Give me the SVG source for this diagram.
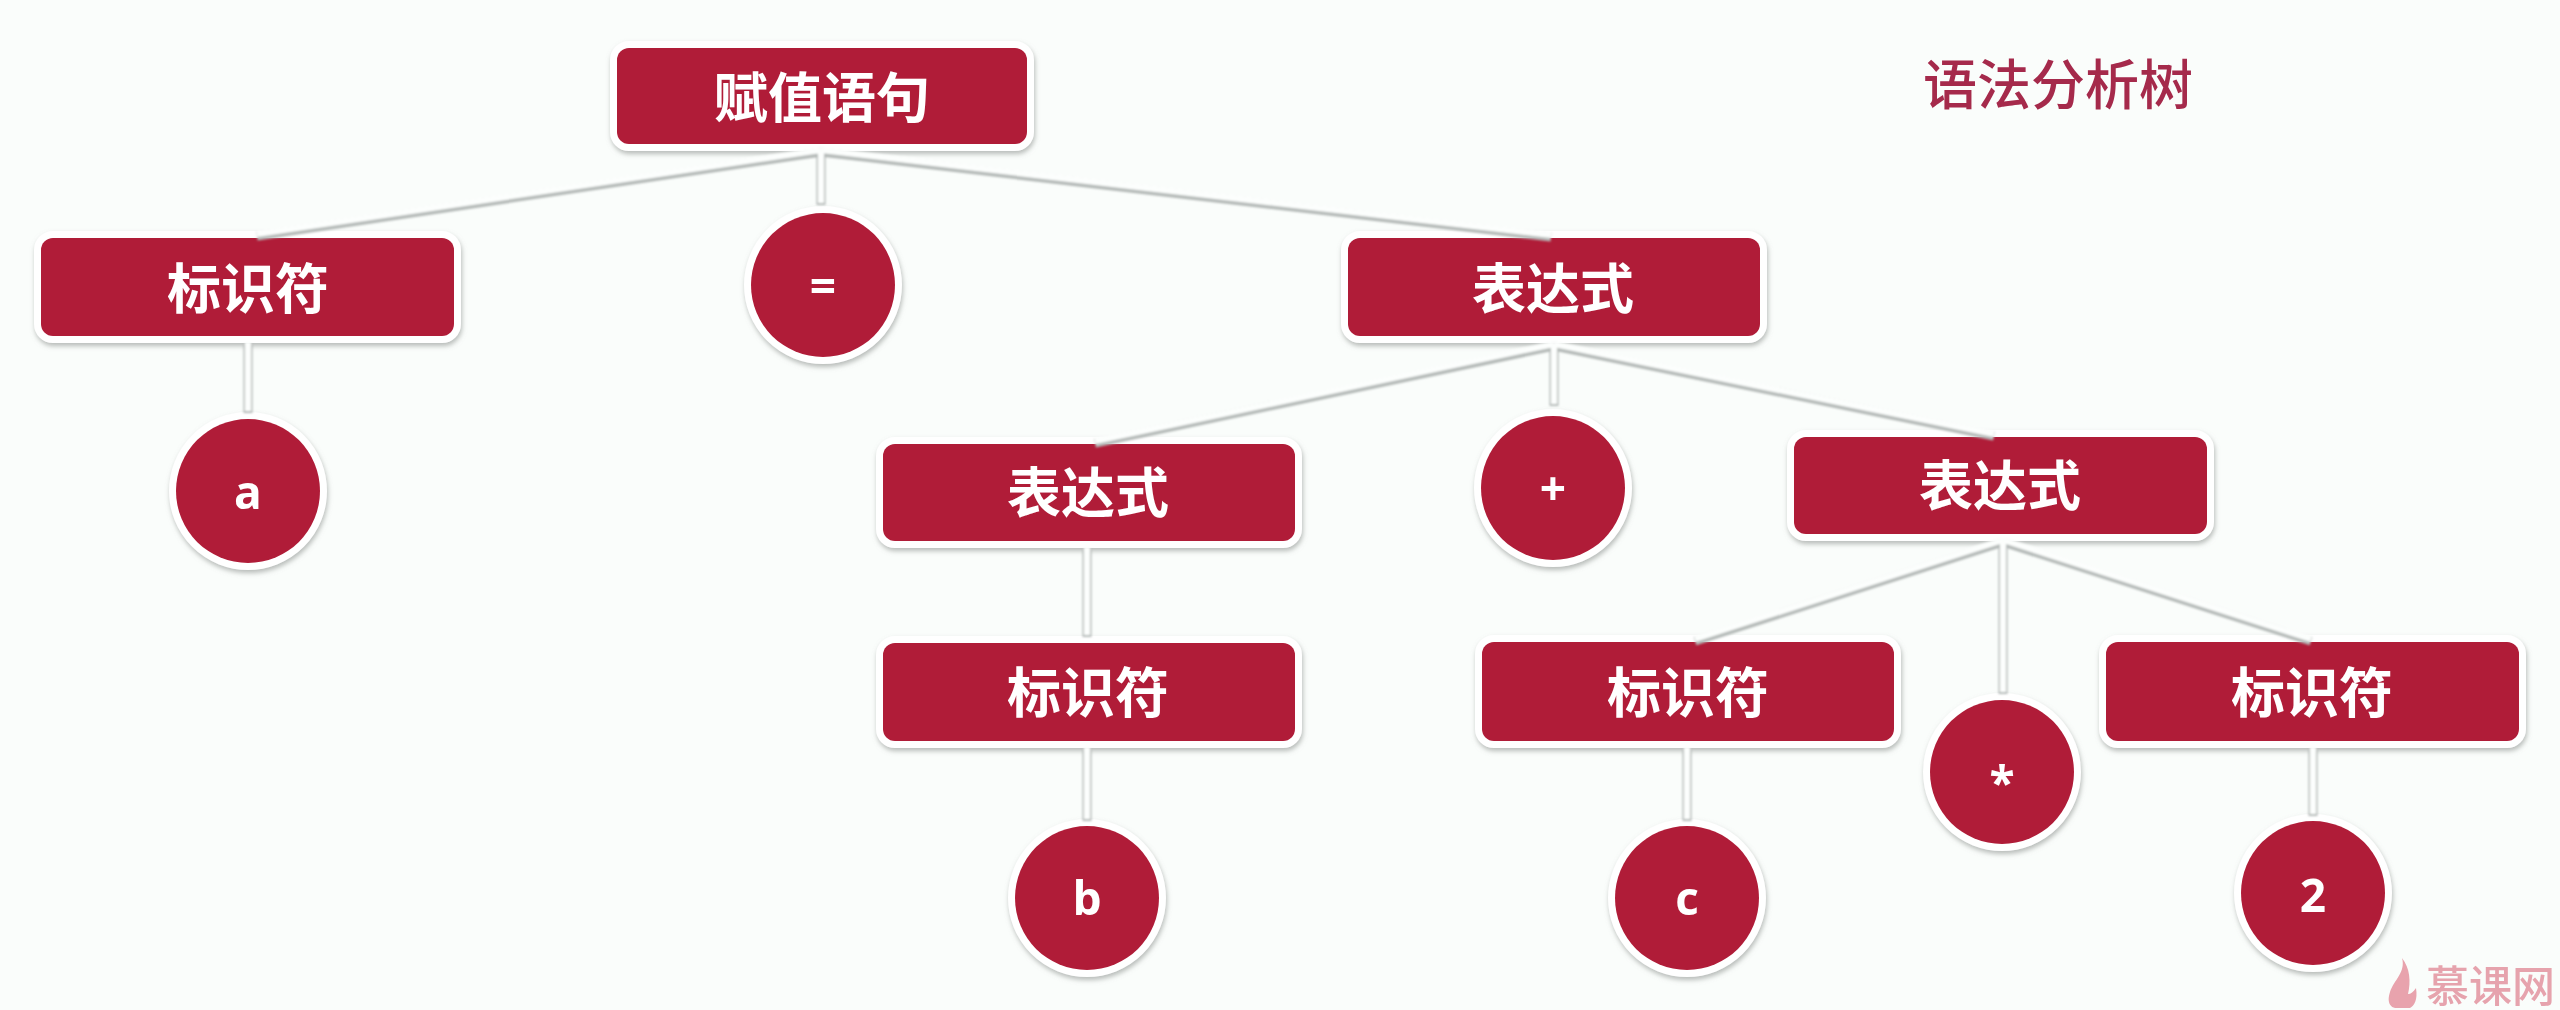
<svg xmlns="http://www.w3.org/2000/svg" width="2560" height="1010" viewBox="0 0 2560 1010">
<defs>
<filter id="sh" x="-20%" y="-20%" width="140%" height="140%"><feDropShadow dx="1" dy="3" stdDeviation="2.5" flood-color="#8a8f8c" flood-opacity="0.6"/></filter>
<filter id="soft" x="-5%" y="-5%" width="110%" height="110%"><feGaussianBlur stdDeviation="0.7"/></filter>
<filter id="line" filterUnits="userSpaceOnUse" x="0" y="0" width="2560" height="1010"><feGaussianBlur stdDeviation="0.9"/></filter>
<g id="wires">
<path d="M821 151L257 235M821 151V204M821 151L1551 236"/>
<path d="M248 343V412"/>
<path d="M1554 345L1095 442M1554 345V405M1554 345L1994 435"/>
<path d="M1087 548V636M1087 748V820"/>
<path d="M2003 541L1695 640M2003 541V693M2003 541L2311 640"/>
<path d="M1687 748V820M2313 748V815"/>
</g>
</defs>
<style>
.box{fill:#b01c38;stroke:#fff;stroke-width:14;paint-order:stroke;filter:url(#sh)}
.lbl{font-family:"Noto Sans CJK SC","Liberation Sans",sans-serif;font-weight:700;font-size:54px;fill:#fff;text-anchor:middle;filter:url(#soft)}
.sym{font-family:"Open Sans","Liberation Sans",sans-serif;font-weight:700;font-size:46px;fill:#fff;text-anchor:middle;filter:url(#soft)}
.c1{stroke:#b4b9b7;stroke-width:9;fill:none}
.c2{stroke:#fcfefd;stroke-width:6;fill:none}
</style>
<rect width="2560" height="1010" fill="#fafdfb"/>
<text id="title" x="2058" y="105" font-family="'Noto Sans CJK SC',sans-serif" font-size="54" font-weight="500" fill="#a52a4c" text-anchor="middle" filter="url(#soft)">语法分析树</text>
<g id="n-root"><rect class="box" x="617" y="48" width="410" height="96" rx="12"/><text class="lbl" x="822" y="118">赋值语句</text></g>
<g id="n-id1"><rect class="box" x="41" y="238" width="413" height="98" rx="12"/><text class="lbl" x="248" y="309">标识符</text></g>
<g id="n-eq"><circle class="box" cx="823" cy="285" r="72"/><text class="sym" x="823" y="303">=</text></g>
<g id="n-expr1"><rect class="box" x="1348" y="238" width="412" height="98" rx="12"/><text class="lbl" x="1553" y="309">表达式</text></g>
<g id="n-a"><circle class="box" cx="248" cy="491" r="72"/><text class="sym" x="248" y="509">a</text></g>
<g id="n-expr2"><rect class="box" x="883" y="444" width="412" height="97" rx="12"/><text class="lbl" x="1088" y="513">表达式</text></g>
<g id="n-plus"><circle class="box" cx="1553" cy="488" r="72"/><text class="sym" x="1553" y="505">+</text></g>
<g id="n-expr3"><rect class="box" x="1794" y="437" width="413" height="97" rx="12"/><text class="lbl" x="2000" y="506">表达式</text></g>
<g id="n-id2"><rect class="box" x="883" y="643" width="412" height="98" rx="12"/><text class="lbl" x="1088" y="713">标识符</text></g>
<g id="n-id3"><rect class="box" x="1482" y="642" width="412" height="99" rx="12"/><text class="lbl" x="1688" y="713">标识符</text></g>
<g id="n-star"><circle class="box" cx="2002" cy="772" r="72"/><text class="sym" x="2002" y="800">*</text></g>
<g id="n-id4"><rect class="box" x="2106" y="642" width="413" height="99" rx="12"/><text class="lbl" x="2312" y="713">标识符</text></g>
<g id="n-b"><circle class="box" cx="1087" cy="898" r="72"/><text class="sym" x="1087" y="915">b</text></g>
<g id="n-c"><circle class="box" cx="1687" cy="898" r="72"/><text class="sym" x="1687" y="915">c</text></g>
<g id="n-2"><circle class="box" cx="2313" cy="893" r="72"/><text class="sym" x="2313" y="912">2</text></g>
<g id="connectors" filter="url(#line)">
<use href="#wires" class="c1" y="1"/>
<use href="#wires" class="c2" y="-1"/>
</g>
<g id="watermark" filter="url(#soft)">
<path d="M2402 958C2406 972 2394 980 2390 992C2386 1004 2392 1008 2396 1008L2410 1008C2414 1006 2418 1000 2416 988C2413 992 2411 994 2408 994C2411 982 2410 968 2402 958Z" fill="#e8a3ad"/>
<text x="2426" y="1002" font-family="'Noto Sans CJK SC',sans-serif" font-size="43" font-weight="500" fill="#e6a3ad">慕课网</text>
</g>
</svg>
